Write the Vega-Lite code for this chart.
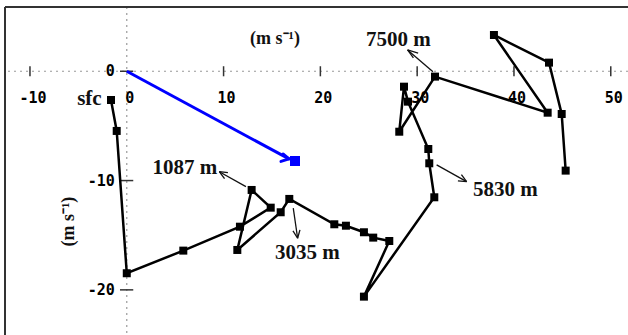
{
  "$schema": "https://vega.github.io/schema/vega-lite/v6.json",
  "autosize": {"type": "none"},
  "padding": {"left": 5, "top": 7, "right": 0, "bottom": 0},
  "width": 623,
  "height": 328,
  "background": "white",
  "config": {"view": {"stroke": null}},
  "data": {"values": [{"one": 1}]},
  "datasets": {
    "hodo": [
      {"i": 1, "u": -1.63, "v": -2.63},
      {"i": 2, "u": -1.04, "v": -5.46},
      {"i": 3, "u": 0.0, "v": -18.48},
      {"i": 4, "u": 5.84, "v": -16.41},
      {"i": 5, "u": 11.69, "v": -14.22},
      {"i": 6, "u": 14.87, "v": -12.48},
      {"i": 7, "u": 12.9, "v": -10.86},
      {"i": 8, "u": 11.42, "v": -16.35},
      {"i": 9, "u": 15.9, "v": -12.9},
      {"i": 10, "u": 16.79, "v": -11.68},
      {"i": 11, "u": 21.44, "v": -14.0},
      {"i": 12, "u": 22.64, "v": -14.13},
      {"i": 13, "u": 24.5, "v": -14.73},
      {"i": 14, "u": 25.46, "v": -15.22},
      {"i": 15, "u": 27.12, "v": -15.53},
      {"i": 16, "u": 24.5, "v": -20.62},
      {"i": 17, "u": 31.77, "v": -11.53},
      {"i": 18, "u": 31.25, "v": -8.42},
      {"i": 19, "u": 31.15, "v": -7.11},
      {"i": 20, "u": 29.05, "v": -2.78},
      {"i": 21, "u": 28.64, "v": -1.41},
      {"i": 22, "u": 28.15, "v": -5.53},
      {"i": 23, "u": 31.84, "v": -0.49},
      {"i": 24, "u": 43.48, "v": -3.79},
      {"i": 25, "u": 37.93, "v": 3.32},
      {"i": 26, "u": 43.62, "v": 0.79},
      {"i": 27, "u": 44.93, "v": -3.91},
      {"i": 28, "u": 45.34, "v": -9.09}
    ],
    "storm": [
      {"i": 1, "u": 0, "v": 0},
      {"i": 2, "u": 16.76, "v": -8.02}
    ],
    "stormBox": [{"u": 17.38, "v": -8.21}],
    "stormHead": [
      {"u": 16.14, "v": -7.57, "u2": 16.76, "v2": -8.02},
      {"u": 15.93, "v": -8.25, "u2": 16.76, "v2": -8.02}
    ],
    "arrows": [
      {"u": 12.31, "v": -10.56, "u2": 9.56, "v2": -9.19},
      {"u": 10.45, "v": -9.27, "u2": 9.56, "v2": -9.19},
      {"u": 10.1, "v": -9.83, "u2": 9.56, "v2": -9.19},
      {"u": 17.2, "v": -12.53, "u2": 17.65, "v2": -15.28},
      {"u": 17.89, "v": -14.51, "u2": 17.65, "v2": -15.28},
      {"u": 17.17, "v": -14.6, "u2": 17.65, "v2": -15.28},
      {"u": 32.01, "v": -8.57, "u2": 35.11, "v2": -10.1},
      {"u": 34.57, "v": -9.46, "u2": 35.11, "v2": -10.1},
      {"u": 34.21, "v": -10.03, "u2": 35.11, "v2": -10.1},
      {"u": 31.63, "v": -0.04, "u2": 29.01, "v2": 1.95},
      {"u": 30.1, "v": 1.67, "u2": 29.01, "v2": 1.95},
      {"u": 29.61, "v": 1.22, "u2": 29.01, "v2": 1.95}
    ],
    "labels": [
      {"u": 6.01, "v": -8.85, "text": "1087 m"},
      {"u": 18.67, "v": -16.65, "text": "3035 m"},
      {"u": 39.1, "v": -10.86, "text": "5830 m"},
      {"u": 28.05, "v": 2.86, "text": "7500 m"}
    ],
    "xticks": [
      {"u": -10, "lab": "-10"},
      {"u": 0, "lab": "0"},
      {"u": 10, "lab": "10"},
      {"u": 20, "lab": "20"},
      {"u": 30, "lab": "30"},
      {"u": 40, "lab": "40"},
      {"u": 50, "lab": "50"}
    ],
    "yticks": [
      {"v": 0, "lab": "0"},
      {"v": -10, "lab": "-10"},
      {"v": -20, "lab": "-20"}
    ]
  },
  "layer": [
    {
      "mark": {"type": "rule", "color": "#999999", "strokeWidth": 1.2, "strokeDash": [2, 4]},
      "encoding": {
        "y": {"datum": 0, "type": "quantitative", "scale": {"domain": [-24.13, 5.88], "nice": false, "zero": false}, "axis": null}
      }
    },
    {
      "mark": {"type": "rule", "color": "#999999", "strokeWidth": 1.2, "strokeDash": [2, 4]},
      "encoding": {
        "x": {"datum": 0, "type": "quantitative", "scale": {"domain": [-12.58, 51.78], "nice": false, "zero": false}, "axis": null}
      }
    },
    {
      "mark": {"type": "rule", "color": "#333333", "strokeWidth": 2},
      "encoding": {
        "x": {"datum": -12.58, "type": "quantitative"}
      }
    },
    {
      "mark": {"type": "rule", "color": "#333333", "strokeWidth": 2},
      "encoding": {
        "y": {"datum": 5.88, "type": "quantitative"}
      }
    },
    {
      "data": {"name": "xticks"},
      "transform": [{"filter": "datum.u != 0"}],
      "mark": {"type": "rule", "color": "#333333", "strokeWidth": 1.5},
      "encoding": {
        "x": {"field": "u", "type": "quantitative"},
        "y": {"datum": -0.46, "type": "quantitative"},
        "y2": {"datum": 0.46}
      }
    },
    {
      "data": {"name": "yticks"},
      "mark": {"type": "rule", "color": "#333333", "strokeWidth": 1.5},
      "encoding": {
        "y": {"field": "v", "type": "quantitative"},
        "x": {"datum": -0.7, "type": "quantitative"},
        "x2": {"datum": 0.67}
      }
    },
    {
      "data": {"name": "xticks"},
      "mark": {"type": "text", "font": "DejaVu Sans Mono", "fontWeight": "bold", "fontSize": 15, "color": "#000000", "align": "center", "baseline": "middle", "dx": 3},
      "encoding": {
        "x": {"field": "u", "type": "quantitative"},
        "y": {"datum": -2.47, "type": "quantitative"},
        "text": {"field": "lab"}
      }
    },
    {
      "data": {"name": "yticks"},
      "mark": {"type": "text", "font": "DejaVu Sans Mono", "fontWeight": "bold", "fontSize": 15, "color": "#000000", "align": "right", "baseline": "middle", "dx": -12},
      "encoding": {
        "y": {"field": "v", "type": "quantitative"},
        "x": {"datum": 0, "type": "quantitative"},
        "text": {"field": "lab"}
      }
    },
    {
      "data": {"name": "arrows"},
      "mark": {"type": "rule", "color": "#111111", "strokeWidth": 1.3},
      "encoding": {
        "x": {"field": "u", "type": "quantitative"},
        "y": {"field": "v", "type": "quantitative"},
        "x2": {"field": "u2"},
        "y2": {"field": "v2"}
      }
    },
    {
      "data": {"name": "storm"},
      "mark": {"type": "line", "color": "#0000ff", "strokeWidth": 3},
      "encoding": {
        "x": {"field": "u", "type": "quantitative"},
        "y": {"field": "v", "type": "quantitative"},
        "order": {"field": "i"}
      }
    },
    {
      "data": {"name": "stormHead"},
      "mark": {"type": "rule", "color": "#0000ff", "strokeWidth": 3, "strokeCap": "round"},
      "encoding": {
        "x": {"field": "u", "type": "quantitative"},
        "y": {"field": "v", "type": "quantitative"},
        "x2": {"field": "u2"},
        "y2": {"field": "v2"}
      }
    },
    {
      "data": {"name": "stormBox"},
      "mark": {"type": "point", "shape": "square", "filled": true, "color": "#0000ff", "size": 100, "opacity": 1},
      "encoding": {
        "x": {"field": "u", "type": "quantitative"},
        "y": {"field": "v", "type": "quantitative"}
      }
    },
    {
      "data": {"name": "hodo"},
      "mark": {"type": "line", "color": "#000000", "strokeWidth": 2.5},
      "encoding": {
        "x": {"field": "u", "type": "quantitative"},
        "y": {"field": "v", "type": "quantitative"},
        "order": {"field": "i"}
      }
    },
    {
      "data": {"name": "hodo"},
      "mark": {"type": "point", "shape": "square", "filled": true, "color": "#000000", "size": 64, "opacity": 1},
      "encoding": {
        "x": {"field": "u", "type": "quantitative"},
        "y": {"field": "v", "type": "quantitative"}
      }
    },
    {
      "data": {"name": "labels"},
      "mark": {"type": "text", "font": "Liberation Serif", "fontWeight": "bold", "fontSize": 21, "color": "#111111", "align": "center", "baseline": "middle"},
      "encoding": {
        "x": {"field": "u", "type": "quantitative"},
        "y": {"field": "v", "type": "quantitative"},
        "text": {"field": "text"}
      }
    },
    {
      "mark": {"type": "text", "font": "Liberation Serif", "fontWeight": "bold", "fontSize": 21, "color": "#111111", "align": "right", "baseline": "middle"},
      "encoding": {
        "x": {"datum": -2.59, "type": "quantitative"},
        "y": {"datum": -2.53, "type": "quantitative"},
        "text": {"value": "sfc"}
      }
    },
    {
      "mark": {"type": "text", "font": "Liberation Serif", "fontWeight": "bold", "fontSize": 18, "color": "#111111", "align": "center", "baseline": "middle"},
      "encoding": {
        "x": {"datum": 15.31, "type": "quantitative"},
        "y": {"datum": 2.95, "type": "quantitative"},
        "text": {"value": "(m s⁻¹)"}
      }
    },
    {
      "mark": {"type": "text", "font": "Liberation Serif", "fontWeight": "bold", "fontSize": 18, "color": "#111111", "align": "center", "baseline": "middle", "angle": 270},
      "encoding": {
        "x": {"datum": -5.94, "type": "quantitative"},
        "y": {"datum": -13.76, "type": "quantitative"},
        "text": {"value": "(m s⁻¹)"}
      }
    }
  ]
}
